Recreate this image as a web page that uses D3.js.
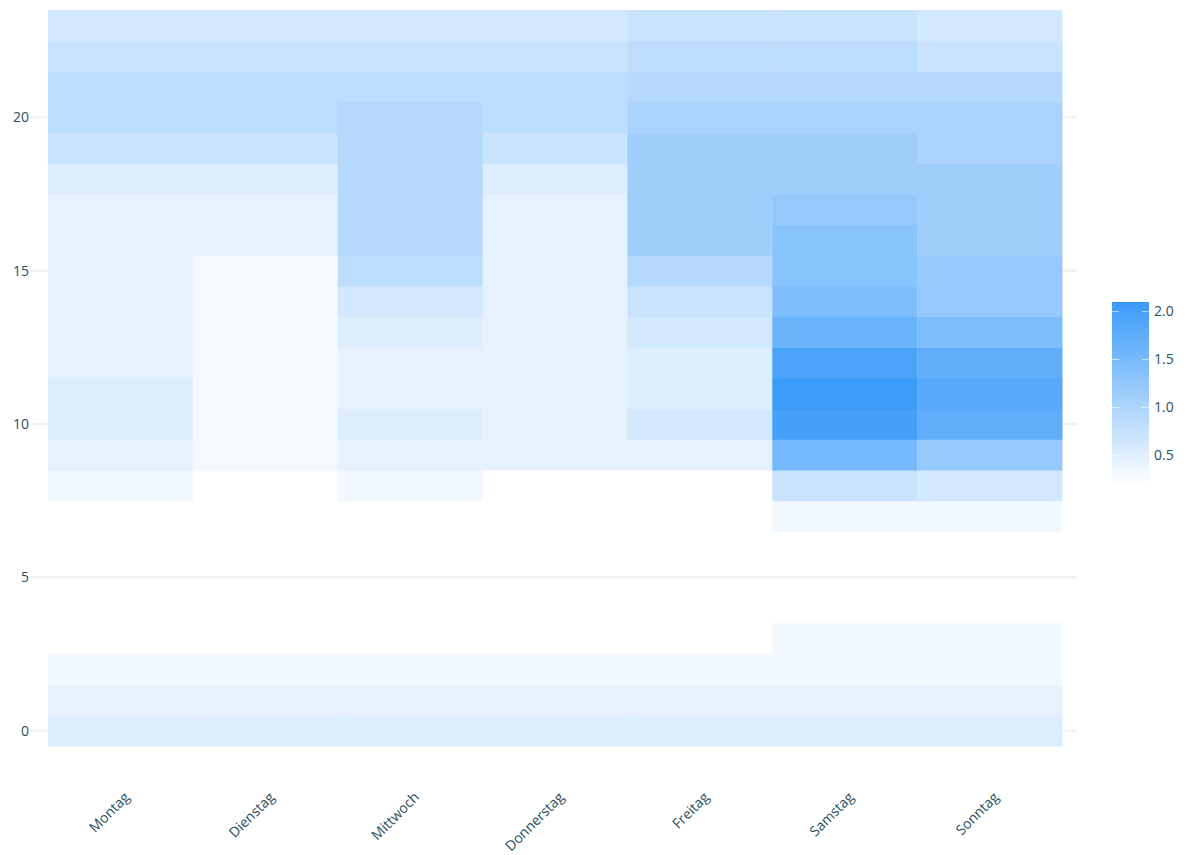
<!DOCTYPE html>
<html>
<head>
<meta charset="utf-8">
<script src="https://cdn.jsdelivr.net/npm/d3@7"></script>
<style>
  body { margin: 0; background: #fff; }
  svg { display: block; font-family: "Open Sans", sans-serif; }
</style>
</head>
<body>
<div id="chart"></div>
<script>
const days = ['Montag', 'Dienstag', 'Mittwoch', 'Donnerstag', 'Freitag', 'Samstag', 'Sonntag']
const hours = d3.range(24)
const yTicks = [0, 5, 10, 15, 20]
const colorTicks = [0.5, 1.0, 1.5, 2.0]
const zMin = 0.19
const zMax = 2.1

// values per day, hour 0..23 (null = no data)
const montag = [0.53, 0.44, 0.32, null, null, null, null, null, 0.32, 0.44, 0.53, 0.53, 0.44, 0.44, 0.44, 0.44, 0.44, 0.44, 0.53, 0.72, 0.84, 0.84, 0.72, 0.63]
const dienstag = [0.53, 0.44, 0.32, null, null, null, null, null, null, 0.3, 0.3, 0.3, 0.3, 0.3, 0.3, 0.3, 0.44, 0.44, 0.53, 0.72, 0.84, 0.84, 0.72, 0.63]
const mittwoch = [0.53, 0.44, 0.32, null, null, null, null, null, 0.32, 0.44, 0.53, 0.44, 0.44, 0.53, 0.63, 0.84, 0.92, 0.92, 0.92, 0.92, 0.92, 0.84, 0.72, 0.63]
const donnerstag = [0.53, 0.44, 0.32, null, null, null, null, null, null, 0.44, 0.44, 0.44, 0.44, 0.44, 0.44, 0.44, 0.44, 0.44, 0.53, 0.72, 0.84, 0.84, 0.72, 0.63]
const freitag = [0.53, 0.44, 0.32, null, null, null, null, null, null, 0.44, 0.63, 0.53, 0.53, 0.63, 0.72, 0.92, 1.13, 1.13, 1.13, 1.13, 1.03, 0.92, 0.84, 0.72]
const samstag = [0.53, 0.44, 0.32, 0.32, null, null, null, 0.32, 0.72, 1.53, 2.0, 2.1, 1.95, 1.64, 1.45, 1.34, 1.34, 1.22, 1.13, 1.13, 1.03, 0.92, 0.84, 0.72]
const sonntag = [0.53, 0.44, 0.32, 0.32, null, null, null, 0.32, 0.63, 1.22, 1.74, 1.83, 1.74, 1.45, 1.22, 1.22, 1.13, 1.13, 1.13, 1.03, 1.03, 0.92, 0.72, 0.63]
const series = [montag, dienstag, mittwoch, donnerstag, freitag, samstag, sonntag]

const width = 1188
const height = 855
const margin = { left: 48, right: 126, top: 10, bottom: 109 }
const textColor = '#2a4f5f'

const svg = d3.select('#chart')
  .append('svg')
  .attr('width', width)
  .attr('height', height)

const x = d3.scaleBand()
  .domain(days)
  .range([margin.left, width - margin.right])

const y = d3.scaleLinear()
  .domain([-0.5, 23.5])
  .range([height - margin.bottom, margin.top])

const color = d3.scaleLinear()
  .domain([zMin, zMax])
  .range(['#ffffff', '#3b9bf9'])
  .clamp(true)

// gridlines
svg.append('g')
  .selectAll('line')
  .data(yTicks)
  .join('line')
  .attr('x1', margin.left - 18)
  .attr('x2', width - margin.right + 15)
  .attr('y1', d => y(d))
  .attr('y2', d => y(d))
  .attr('stroke', '#ebf0f0')
  .attr('stroke-width', 2)

// cells
const cells = []
series.forEach((vals, i) => {
  vals.forEach((v, h) => {
    if (v !== null) cells.push({ day: days[i], hour: h, value: v })
  })
})

svg.append('g')
  .selectAll('rect')
  .data(cells)
  .join('rect')
  .attr('x', d => x(d.day))
  .attr('width', x.bandwidth() + 0.5)
  .attr('y', d => y(d.hour + 0.5))
  .attr('height', d => y(d.hour - 0.5) - y(d.hour + 0.5) + 0.5)
  .attr('fill', d => color(d.value))

// y axis labels
svg.append('g')
  .selectAll('text')
  .data(yTicks)
  .join('text')
  .attr('x', margin.left - 19)
  .attr('y', d => y(d))
  .attr('dy', '0.35em')
  .attr('text-anchor', 'end')
  .attr('fill', textColor)
  .attr('font-size', 14)
  .text(d => d)

// x axis labels
svg.append('g')
  .selectAll('text')
  .data(days)
  .join('text')
  .attr('transform', d => `translate(${x(d) + x.bandwidth() / 2 + 10},${height - margin.bottom + 52}) rotate(-45)`)
  .attr('text-anchor', 'end')
  .attr('fill', textColor)
  .attr('font-size', 14)
  .text(d => d)

// colorbar
const cb = { x: 1112, w: 37, top: 302, bottom: 485 }
const cScale = d3.scaleLinear()
  .domain([zMin, zMax])
  .range([cb.bottom, cb.top])

const defs = svg.append('defs')
const grad = defs.append('linearGradient')
  .attr('id', 'cbgrad')
  .attr('x1', 0).attr('x2', 0)
  .attr('y1', 1).attr('y2', 0)
grad.append('stop').attr('offset', '0%').attr('stop-color', color(zMin))
grad.append('stop').attr('offset', '100%').attr('stop-color', color(zMax))

svg.append('rect')
  .attr('x', cb.x)
  .attr('y', cb.top)
  .attr('width', cb.w)
  .attr('height', cb.bottom - cb.top)
  .attr('fill', 'url(#cbgrad)')

const cbTicks = svg.append('g')
  .selectAll('g')
  .data(colorTicks)
  .join('g')
  .attr('transform', d => `translate(0,${cScale(d)})`)

cbTicks.append('line')
  .attr('x1', cb.x).attr('x2', cb.x + 7)
  .attr('stroke', 'rgba(255,255,255,0.6)')
  .attr('stroke-width', 1)
cbTicks.append('line')
  .attr('x1', cb.x + cb.w - 7).attr('x2', cb.x + cb.w)
  .attr('stroke', 'rgba(255,255,255,0.6)')
  .attr('stroke-width', 1)
cbTicks.append('text')
  .attr('x', cb.x + cb.w + 5)
  .attr('dy', '0.35em')
  .attr('fill', textColor)
  .attr('font-size', 14)
  .text(d => d3.format('.1f')(d))
</script>
</body>
</html>
